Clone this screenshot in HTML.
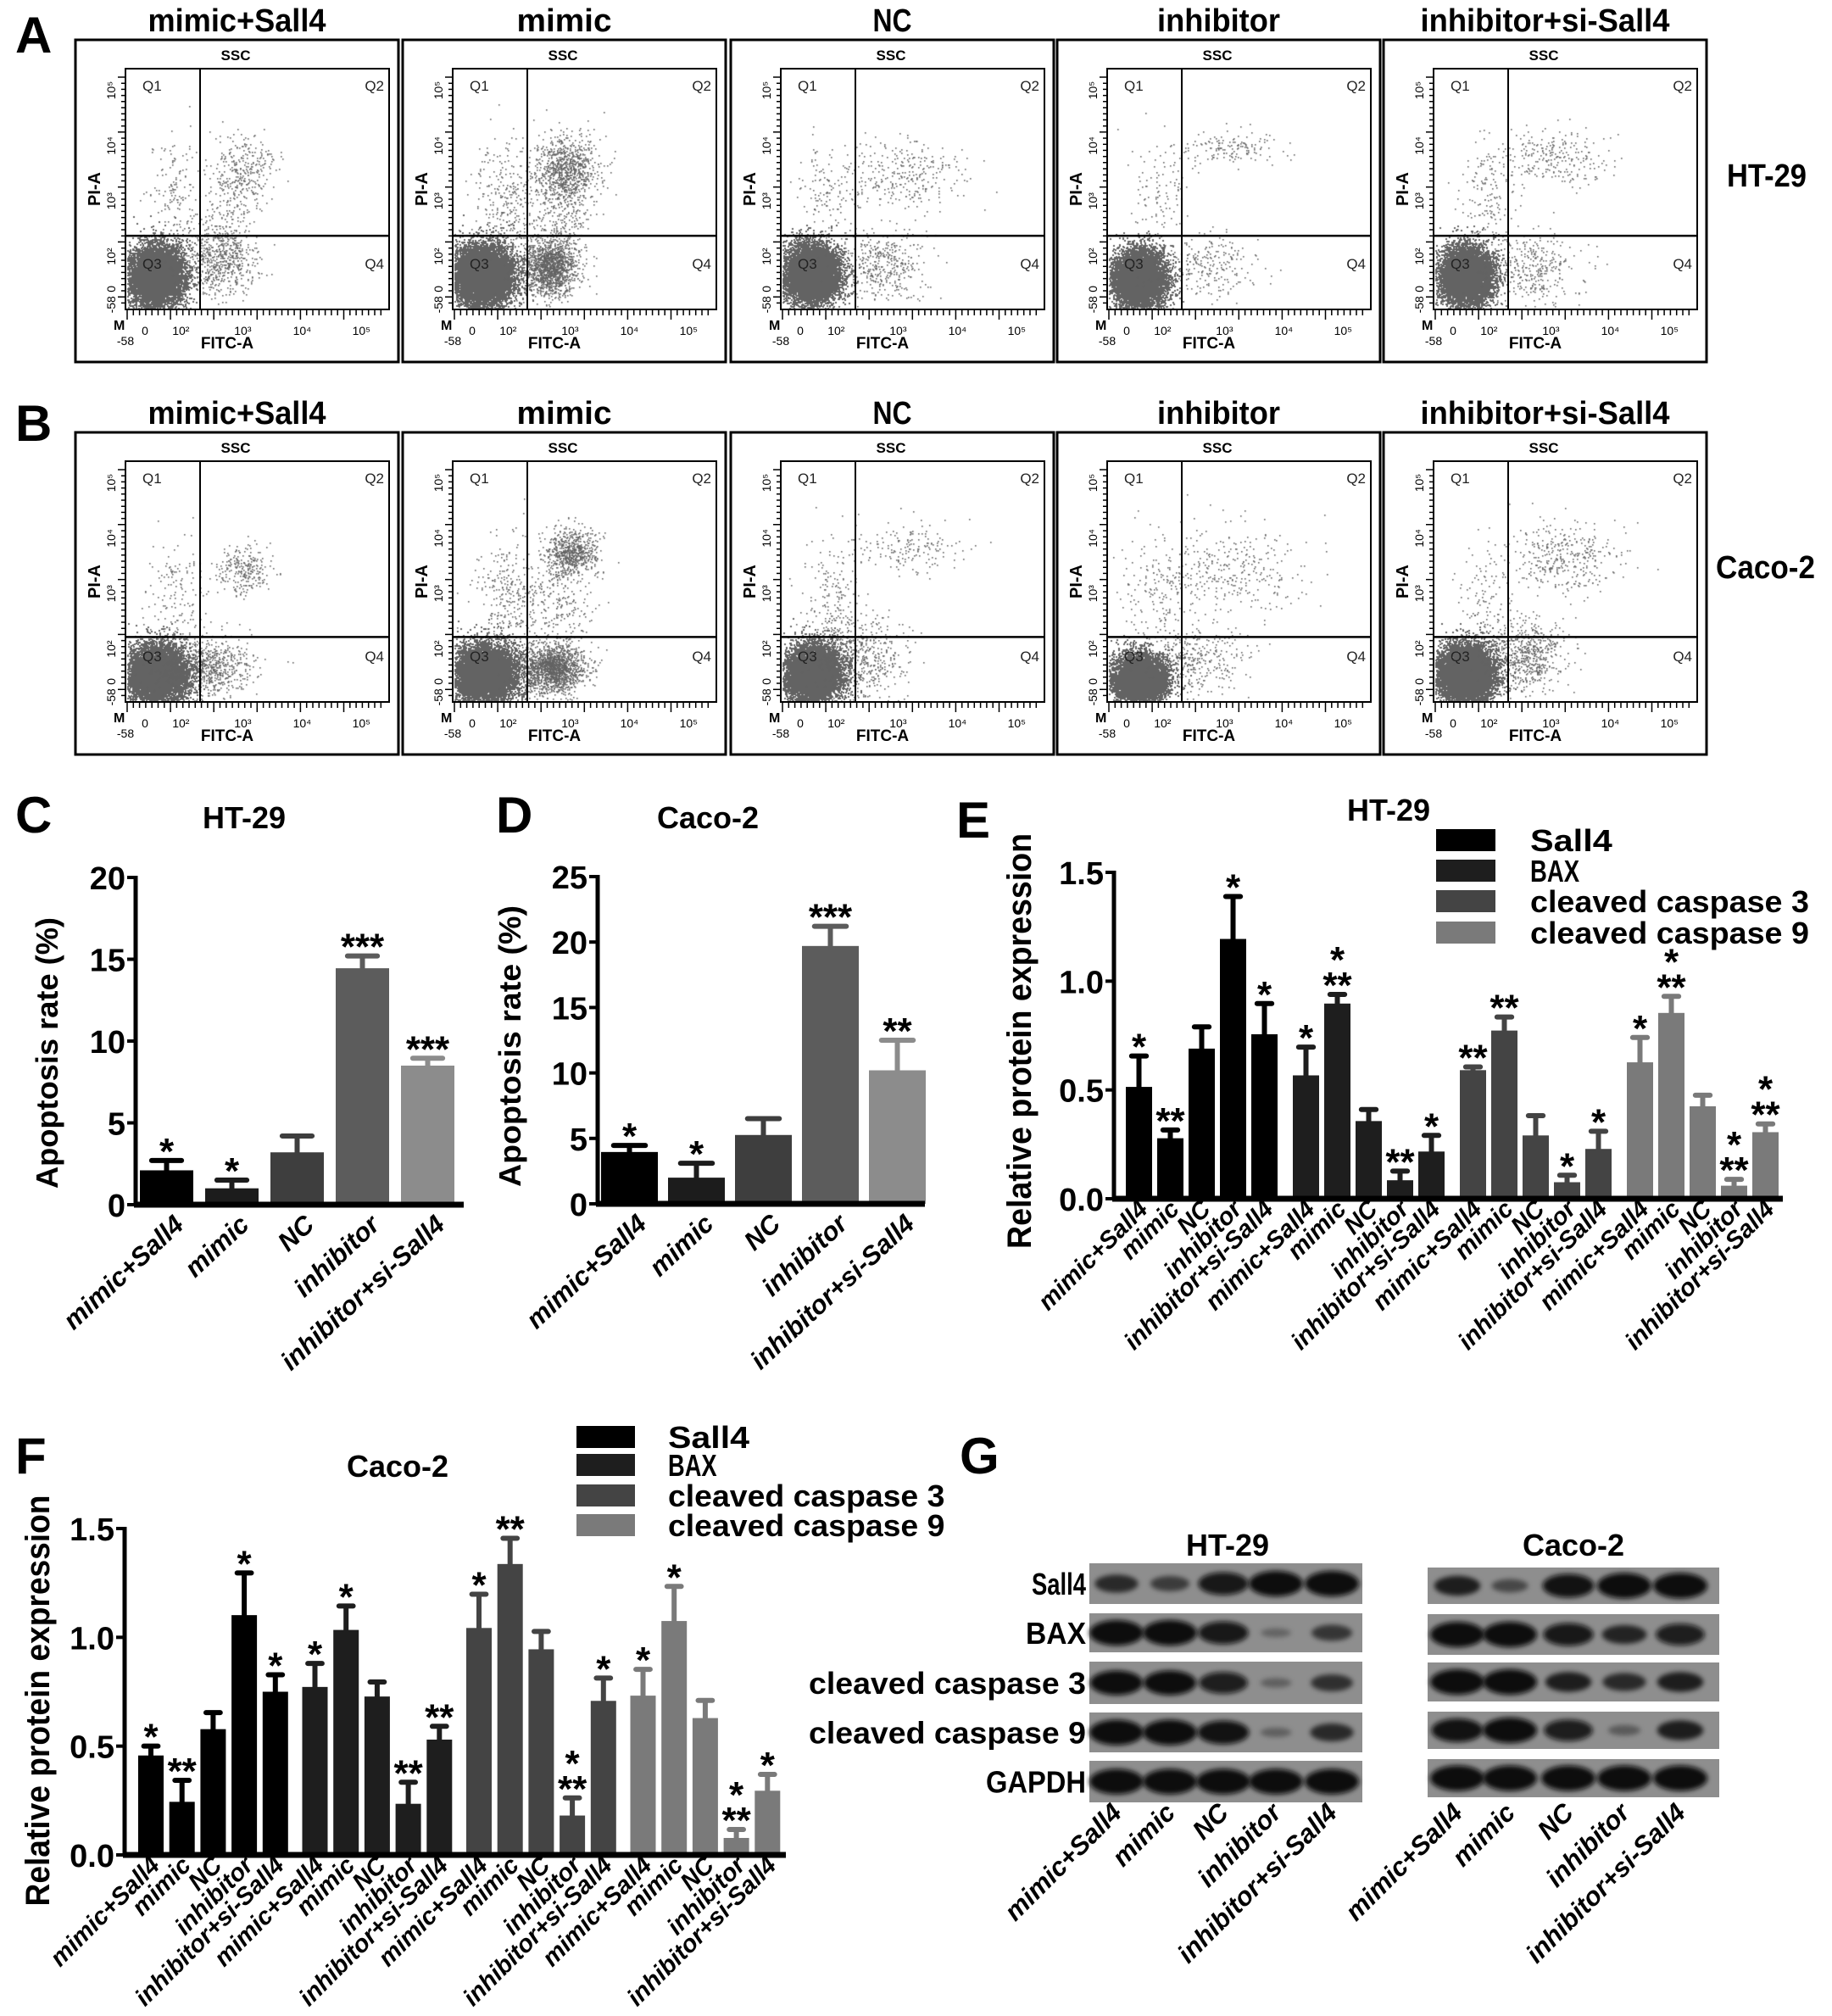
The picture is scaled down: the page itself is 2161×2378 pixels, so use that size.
<!DOCTYPE html>
<html><head><meta charset="utf-8">
<style>
body{margin:0;background:#fff;}
#wrap{position:relative;width:2161px;height:2378px;overflow:hidden;background:#fff}
#dots,#fig{position:absolute;left:0;top:0}
text{font-family:"Liberation Sans",sans-serif;}
</style></head>
<body>
<div id="wrap">
<canvas id="dots" width="2161" height="2378"></canvas>
<svg id="fig" width="2161" height="2378" xmlns="http://www.w3.org/2000/svg">
<defs><filter id="blur" x="-50%" y="-80%" width="200%" height="260%"><feGaussianBlur stdDeviation="3"/></filter></defs>
</svg>
</div>
<script>
// ---------- DATA ----------
const groupCats = ["mimic+Sall4","mimic","NC","inhibitor","inhibitor+si-Sall4"];
// Panel C (HT-29 apoptosis)
const cVals = [2.1,1.0,3.2,14.45,8.5];
const cErrs = [0.6,0.5,1.0,0.75,0.45];
const cStars = ["*","*","","***","***"];
const cTicks = [0,5,10,15,20];
// Panel D (Caco-2 apoptosis)
const dVals = [3.96,2.0,5.26,19.7,10.2];
const dErrs = [0.5,1.1,1.25,1.5,2.3];
const dStars = ["*","*","","***","**"];
const dTicks = [0,5,10,15,20,25];
// Panel E (HT-29 protein)
const proteins = ["Sall4","BAX","cleaved caspase 3","cleaved caspase 9"];
const eSall4 = [0.514,0.278,0.69,1.194,0.756];
const eSall4Err = [0.142,0.038,0.10,0.195,0.141];
const eBax = [0.567,0.897,0.357,0.085,0.217];
const eBaxErr = [0.13,0.042,0.053,0.042,0.074];
const eC3 = [0.591,0.773,0.291,0.076,0.229];
const eC3Err = [0.015,0.062,0.091,0.032,0.081];
const eC9 = [0.627,0.854,0.425,0.06,0.306];
const eC9Err = [0.114,0.076,0.051,0.029,0.038];
const eStars = [["*","**","","*","*"],["*","*|**","","**","*"],["**","**","","*","*"],["*","*|**","","*|**","*|**"]];
// Panel F (Caco-2 protein)
const fSall4 = [0.457,0.244,0.578,1.102,0.75];
const fSall4Err = [0.043,0.099,0.076,0.194,0.078];
const fBax = [0.772,1.034,0.728,0.235,0.53];
const fBaxErr = [0.108,0.11,0.067,0.099,0.061];
const fC3 = [1.043,1.337,0.945,0.181,0.708];
const fC3Err = [0.155,0.118,0.082,0.081,0.105];
const fC9 = [0.732,1.075,0.629,0.078,0.295];
const fC9Err = [0.121,0.159,0.081,0.039,0.075];
const fStars = [["*","**","","*","*"],["*","*","","**","**"],["*","**","","*|**","*"],["*","*","","*|**","*"]];
const protTicks = [0.0,0.5,1.0,1.5];
// Panel G band intensities
const blotRows = ["Sall4","BAX","cleaved caspase 3","cleaved caspase 9","GAPDH"];
const htBand = [[0.6,0.45,0.85,1,1],[1,1,0.85,0.12,0.5],[0.95,0.95,0.8,0.15,0.55],[1,1,0.9,0.15,0.6],[1,1,1,1,1]];
const cacoBand = [[0.7,0.35,0.9,1,1],[1,1,0.85,0.65,0.8],[1,1,0.7,0.6,0.7],[0.9,1,0.8,0.2,0.7],[1,1,1,1,1]];
// Flow clusters [cx,cy,sx,sy,n] in plot fractions
const flowA = [
 [[0.115,0.86,0.055,0.065,7000],[0.36,0.80,0.07,0.07,600],[0.45,0.43,0.06,0.08,300],[0.19,0.52,0.05,0.12,140],[0.38,0.62,0.05,0.1,140]],
 [[0.11,0.86,0.06,0.065,8000],[0.37,0.82,0.05,0.06,1500],[0.43,0.42,0.06,0.07,900],[0.2,0.55,0.06,0.12,280],[0.4,0.62,0.06,0.1,240]],
 [[0.115,0.85,0.055,0.065,7000],[0.38,0.82,0.09,0.07,400],[0.48,0.44,0.12,0.08,300],[0.18,0.5,0.06,0.12,120]],
 [[0.12,0.87,0.05,0.06,7000],[0.36,0.82,0.10,0.07,250],[0.45,0.33,0.10,0.04,150],[0.2,0.5,0.06,0.12,100]],
 [[0.12,0.86,0.05,0.06,7000],[0.36,0.82,0.09,0.07,350],[0.45,0.37,0.10,0.06,250],[0.2,0.55,0.06,0.12,150]]];
const flowB = [
 [[0.12,0.88,0.055,0.06,7000],[0.30,0.85,0.09,0.06,800],[0.45,0.45,0.05,0.05,250],[0.2,0.55,0.06,0.12,150]],
 [[0.12,0.88,0.06,0.06,7500],[0.38,0.86,0.06,0.05,1600],[0.45,0.38,0.05,0.05,700],[0.22,0.55,0.07,0.12,300],[0.4,0.6,0.06,0.1,200]],
 [[0.12,0.88,0.055,0.06,7000],[0.30,0.82,0.09,0.08,500],[0.50,0.36,0.10,0.05,160],[0.2,0.55,0.06,0.12,200]],
 [[0.12,0.90,0.05,0.05,7000],[0.32,0.82,0.10,0.07,350],[0.46,0.46,0.15,0.09,320],[0.2,0.55,0.07,0.12,150]],
 [[0.12,0.88,0.055,0.06,7500],[0.35,0.80,0.08,0.07,600],[0.5,0.40,0.10,0.07,350],[0.2,0.55,0.06,0.12,120]]];

// ---------- HELPERS ----------
const NS='http://www.w3.org/2000/svg';
const svg=document.getElementById('fig');
function mk(tag,attrs,parent){const e=document.createElementNS(NS,tag);for(const k in attrs)e.setAttribute(k,attrs[k]);(parent||svg).appendChild(e);return e;}
function txt(x,y,s,attrs,parent){const t=mk('text',Object.assign({x:x,y:y},attrs||{}),parent);t.textContent=s;return t;}
const NARROW='"Liberation Sans Narrow","Liberation Sans",sans-serif';

[["A",18,62],["B",18,520],["C",18,982],["D",585,982],["E",1128,988],["F",18,1738],["G",1132,1738]].forEach(p=>{
  const t=txt(p[1],p[2],p[0],{'font-size':60,'font-weight':'bold','font-family':NARROW});
  
  
});

// ---------- FLOW PLOTS ----------
const boxX=[89,475,862,1247,1632];
const boxY=[47,510];
const titleLens=[210,112,46,145,294];
const ctx=document.getElementById('dots').getContext('2d');
function rng(seed){return function(){seed|=0;seed=seed+0x6D2B79F5|0;let t=Math.imul(seed^seed>>>15,1|seed);t=t+Math.imul(t^t>>>7,61|t)^t;return((t^t>>>14)>>>0)/4294967296;};}
const xTickF=[0,0.074,0.21,0.445,0.67,0.895];
const xTickL=["-58","0","10²","10³","10⁴","10⁵"];
const yTickF=[0.09,0.32,0.55,0.78,0.915,0.98];
const yTickL=["10⁵","10⁴","10³","10²","0","-58"];
function flowPlot(r,c){
  const bx=boxX[c],by=boxY[r],bw=381,bh=380;
  const g=mk('g',{});
  
  
  const tt=txt(bx+bw/2,by-10,groupCats[c],{'font-size':38,'font-weight':'bold','font-family':NARROW,'text-anchor':'middle',textLength:titleLens[c],lengthAdjust:'spacingAndGlyphs'},g);
  
  
  const box=mk('rect',{x:bx,y:by,width:bw,height:bh,fill:'none',stroke:'#000','stroke-width':3},g);
  
  
  const px=bx+59,py=by+34,pw=311,ph=284;
  const gx=px+0.283*pw, gy=py+(r?0.73:0.694)*ph;
  const clusters=(r?flowB:flowA)[c];
  const rand=rng(1000+r*10+c);
  ctx.fillStyle='#636363';
  clusters.forEach(cl=>{
    const sz=cl[4]>3000?2:1.6;
    for(let i=0;i<cl[4];i++){
      const u=Math.max(1e-6,rand()),v=rand();
      const m=Math.sqrt(-2*Math.log(u));
      const x=cl[0]+cl[2]*m*Math.cos(2*Math.PI*v), y=cl[1]+cl[3]*m*Math.sin(2*Math.PI*v);
      if(x<0.005||x>0.995||y<0.005||y>0.995)continue;
      ctx.fillRect(Math.round(px+x*pw),Math.round(py+y*ph),sz,sz);
    }
  });
  const pr=mk('rect',{x:px,y:py,width:pw,height:ph,fill:'none',stroke:'#000','stroke-width':2},g);
  
  
  const vl=mk('line',{x1:gx,y1:py,x2:gx,y2:py+ph,stroke:'#000','stroke-width':2},g);
  
  
  const hl=mk('line',{x1:px,y1:gy,x2:px+pw,y2:gy,stroke:'#000','stroke-width':2.5},g);
  
  
  [["Q1",px+20,py+26,'start'],["Q2",px+pw-6,py+26,'end'],["Q3",px+20,py+ph-48,'start'],["Q4",px+pw-6,py+ph-48,'end']].forEach(q=>{
    const t=txt(q[1],q[2],q[0],{'font-size':17,'font-family':NARROW,'text-anchor':q[3],fill:'#222'},g);
    
    
  });
  const s=txt(px+130,by+24,"SSC",{'font-size':17,'font-weight':'bold','font-family':NARROW,'text-anchor':'middle'},g);
  
  
  const pi=txt(0,0,"PI-A",{'font-size':20,'font-weight':'bold','text-anchor':'middle',transform:'translate('+(bx+29)+','+(by+176)+') rotate(-90)'},g);
  
  
  const fi=txt(px+120,by+364,"FITC-A",{'font-size':19,'font-weight':'bold','font-family':NARROW,'text-anchor':'middle'},g);
  
  
  const m=txt(px-14,py+ph+24,"M",{'font-size':16,'font-weight':'bold'},g);
  
  
  let d='';
  for(let i=0;i<38;i++){const yy=py+10+i*7.2;const L=(i%9==0)?9:5;d+='M'+(px-L)+' '+yy.toFixed(1)+'h'+L;}
  for(let i=0;i<42;i++){const xx=px+2+i*7.3;const L=(i%7==0)?12:7;d+='M'+xx.toFixed(1)+' '+(py+ph)+'v'+L;}
  const tk=mk('path',{d:d,stroke:'#000','stroke-width':1.5,fill:'none'},g);
  
  
  xTickF.forEach((f,i)=>{
    const t=txt(px+f*pw,py+ph+(i==0?42:30),xTickL[i],{'font-size':14,'font-family':NARROW,'text-anchor':'middle'},g);
    
    
  });
  yTickF.forEach((f,i)=>{
    const t=txt(0,0,yTickL[i],{'font-size':14,'font-family':NARROW,'text-anchor':'middle',transform:'translate('+(px-12)+','+(py+f*ph)+') rotate(-90)'},g);
    
    
  });
}
for(let r=0;r<2;r++)for(let c=0;c<5;c++)flowPlot(r,c);
[["HT-29",2037,220,94],["Caco-2",2024,682,117]].forEach(s=>{
  const t=txt(s[1],s[2],s[0],{'font-size':38,'font-weight':'bold','font-family':NARROW,textLength:s[3],lengthAdjust:'spacingAndGlyphs'});
  
  
});

// ---------- BAR CHARTS ----------
function drawStars(g,cx,yTop,s){
  if(!s)return;
  const parts=s.split('|');
  if(parts.length==2){
    const a=txt(cx,yTop+6,parts[1],{'font-size':44,'font-weight':'bold','text-anchor':'middle'},g);
    
    
    const b=txt(cx,yTop-24,parts[0],{'font-size':44,'font-weight':'bold','text-anchor':'middle'},g);
    
    
  } else {
    const a=txt(cx,yTop+6,s,{'font-size':44,'font-weight':'bold','text-anchor':'middle'},g);
    
    
  }
}
function barChart(cfg){
  const g=mk('g',{});
  
  
  const ys=v=>cfg.y0-v/cfg.vmax*(cfg.y0-cfg.yTop);
  const ti=txt(cfg.titleX,cfg.titleY,cfg.title,{'font-size':36,'font-weight':'bold','font-family':NARROW,'text-anchor':'middle'},g);
  
  
  const yt=txt(0,0,cfg.yTitle,{'font-size':cfg.yTitleSize,'font-weight':'bold','text-anchor':'middle',textLength:cfg.yTitleLen,lengthAdjust:'spacingAndGlyphs',transform:'translate('+cfg.yTitleX+','+cfg.yTitleY+') rotate(-90)'},g);
  
  
  cfg.series.forEach((sr,gi)=>{
    sr.vals.forEach((v,i)=>{
      const k=gi*5+i;
      const left=cfg.barLeft+k*cfg.period+gi*cfg.groupGap;
      const cx=left+cfg.barW/2;
      const col=sr.colors?sr.colors[i]:sr.color;
      const top=ys(v), etop=ys(v+sr.errs[i]);
      const b=mk('rect',{x:left,y:top,width:cfg.barW,height:cfg.y0-top,fill:col},g);
      
      
      const e=mk('path',{d:'M'+cx+' '+top+'V'+etop+'M'+(cx-cfg.barW*0.28)+' '+etop+'H'+(cx+cfg.barW*0.28),stroke:col,'stroke-width':6,fill:'none','stroke-linecap':'round'},g);
      
      
      drawStars(g,cx,etop-2,sr.stars[i]);
      const lb=txt(0,0,groupCats[i],{'font-size':cfg.labelSize,'font-weight':'bold','font-style':'italic','text-anchor':'end',transform:'translate('+(cx+cfg.labelDx)+','+(cfg.y0+cfg.labelDy)+') rotate('+cfg.labelRot+')'},g);
      
      
    });
  });
  const ax=mk('path',{d:'M'+cfg.axisX+' '+(cfg.yTop-2)+'V'+cfg.y0,stroke:'#000','stroke-width':5,fill:'none'},g);
  
  
  const xa=mk('path',{d:'M'+(cfg.axisX-2)+' '+cfg.y0+'H'+cfg.xEnd,stroke:'#000','stroke-width':7,fill:'none'},g);
  
  
  cfg.ticks.forEach(t=>{
    const y=ys(t);
    const tm=mk('path',{d:'M'+(cfg.axisX-10)+' '+y+'H'+cfg.axisX,stroke:'#000','stroke-width':4},g);
    
    
    const tl=txt(cfg.axisX-12,y+14,cfg.fmt(t),{'font-size':cfg.tickSize,'font-weight':'bold','font-family':NARROW,'text-anchor':'end'},g);
    
    
  });
  if(cfg.legend){
    const L=cfg.legend;
    proteins.forEach((p,i)=>{
      const y=L.rows[i];
      const sw=mk('rect',{x:L.x,y:y-13,width:L.w,height:26,fill:cfg.series[i].color},g);
      
      
      const lt=txt(L.tx,y+13,p,{'font-size':36,'font-weight':'bold','font-family':NARROW,textLength:p.length*L.cw,lengthAdjust:'spacingAndGlyphs'},g);
      
      
    });
  }
}
const cCols=['#000','#1c1c1c','#3e3e3e','#5c5c5c','#8c8c8c'];
barChart({name:'chart-c-ht29-apoptosis',title:'HT-29',titleX:288,titleY:977,yTitle:'Apoptosis rate (%)',yTitleX:68,yTitleY:1242,yTitleSize:36,yTitleLen:320,
  axisX:160,y0:1421,yTop:1035,vmax:20,ticks:cTicks,fmt:t=>String(t),tickSize:38,xEnd:547,barLeft:165,barW:63,period:77,groupGap:0,
  series:[{key:'c',vals:cVals,errs:cErrs,stars:cStars,colors:cCols}],labelSize:31,labelDx:22,labelDy:26,labelRot:-43});
barChart({name:'chart-d-caco2-apoptosis',title:'Caco-2',titleX:835,titleY:977,yTitle:'Apoptosis rate (%)',yTitleX:614,yTitleY:1234,yTitleSize:36,yTitleLen:332,
  axisX:705,y0:1420,yTop:1034,vmax:25,ticks:dTicks,fmt:t=>String(t),tickSize:38,xEnd:1091,barLeft:709,barW:67,period:79,groupGap:0,
  series:[{key:'d',vals:dVals,errs:dErrs,stars:dStars,colors:cCols}],labelSize:31,labelDx:22,labelDy:26,labelRot:-43});
const pCols=['#000','#1e1e1e','#444','#7a7a7a'];
barChart({name:'chart-e-ht29-protein',title:'HT-29',titleX:1638,titleY:968,yTitle:'Relative protein expression',yTitleX:1216,yTitleY:1228,yTitleSize:40,yTitleLen:490,
  axisX:1314,y0:1414,yTop:1029,vmax:1.5,ticks:protTicks,fmt:t=>t.toFixed(1),tickSize:38,xEnd:2103,barLeft:1328,barW:31,period:37,groupGap:12,
  series:[{key:'sall4',vals:eSall4,errs:eSall4Err,stars:eStars[0],color:pCols[0]},{key:'bax',vals:eBax,errs:eBaxErr,stars:eStars[1],color:pCols[1]},
          {key:'c3',vals:eC3,errs:eC3Err,stars:eStars[2],color:pCols[2]},{key:'c9',vals:eC9,errs:eC9Err,stars:eStars[3],color:pCols[3]}],
  labelSize:29,labelDx:12,labelDy:14,labelRot:-45,legend:{x:1694,w:70,tx:1805,cw:19.35,rows:[991,1027,1063,1100]}});
barChart({name:'chart-f-caco2-protein',title:'Caco-2',titleX:469,titleY:1742,yTitle:'Relative protein expression',yTitleX:58,yTitleY:2006,yTitleSize:40,yTitleLen:485,
  axisX:147,y0:2188,yTop:1803,vmax:1.5,ticks:protTicks,fmt:t=>t.toFixed(1),tickSize:38,xEnd:927,barLeft:163,barW:30,period:36.7,groupGap:10,
  series:[{key:'sall4',vals:fSall4,errs:fSall4Err,stars:fStars[0],color:pCols[0]},{key:'bax',vals:fBax,errs:fBaxErr,stars:fStars[1],color:pCols[1]},
          {key:'c3',vals:fC3,errs:fC3Err,stars:fStars[2],color:pCols[2]},{key:'c9',vals:fC9,errs:fC9Err,stars:fStars[3],color:pCols[3]}],
  labelSize:29,labelDx:12,labelDy:14,labelRot:-45,legend:{x:680,w:69,tx:788,cw:19.2,rows:[1695,1728,1764,1799]}});

// ---------- WESTERN BLOTS ----------
function blot(name,title,titleX,x0,x1,lanes,rows,bands){
  const g=mk('g',{});
  
  
  const t=txt(titleX,1835,title,{'font-size':36,'font-weight':'bold','font-family':NARROW,'text-anchor':'middle'},g);
  
  
  rows.forEach((rw,ri)=>{
    const bg=mk('rect',{x:x0,y:rw[0],width:x1-x0,height:rw[1],fill:'#8e8e8e'},g);
    
    
    lanes.forEach((lx,li)=>{
      const v=bands[ri][li];
      const e=mk('ellipse',{cx:lx,cy:rw[0]+rw[1]/2,rx:16+16*v,ry:4+11*v,fill:'#080808','fill-opacity':Math.min(1,0.2+0.85*v),filter:'url(#blur)'},g);
      
      
    });
  });
  lanes.forEach((lx,li)=>{
    const l=txt(0,0,groupCats[li],{'font-size':31,'font-weight':'bold','font-style':'italic','text-anchor':'end',transform:'translate('+(lx+8)+',2140) rotate(-45)'},g);
    
    
  });
}
const htRows=[[1844,48],[1903,46],[1960,50],[2020,47],[2077,49]];
const cacoRows=[[1849,43],[1904,48],[1961,46],[2019,44],[2075,45]];
blot('blot-ht29','HT-29',1448,1285,1607,[1317,1380,1443,1505,1571],htRows,htBand);
blot('blot-caco2','Caco-2',1856,1684,2028,[1719,1781,1850,1916,1982],cacoRows,cacoBand);
const rowLens=[64,71,327,327,118];
blotRows.forEach((r,i)=>{
  const y=htRows[i][0]+htRows[i][1]/2+13;
  const t=txt(1281,y,r,{'font-size':36,'font-weight':'bold','font-family':NARROW,'text-anchor':'end',textLength:rowLens[i],lengthAdjust:'spacingAndGlyphs'});
  
  
});
</script>
</body></html>
